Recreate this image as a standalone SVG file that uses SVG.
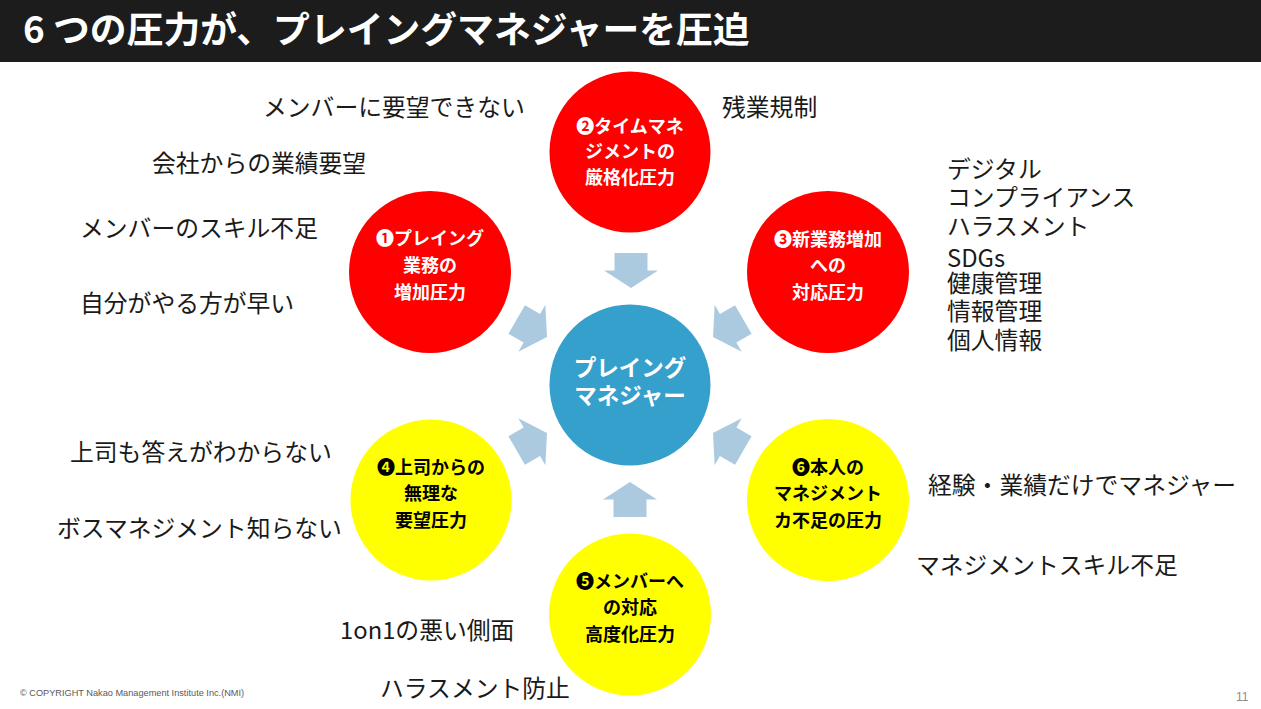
<svg xmlns="http://www.w3.org/2000/svg" xmlns:xlink="http://www.w3.org/1999/xlink" width="1261" height="709" viewBox="0 0 1261 709">
<style>
.jp{font-family:"Noto Sans CJK JP","Noto Sans",sans-serif}
.title{font-size:36.8px;font-weight:bold;fill:#ffffff}
.lbl{font-size:23.8px;fill:#1a1a1a}
.ct{font-size:18px;font-weight:bold;text-anchor:middle}
.w{fill:#ffffff}
.b{fill:#000000}
.red{fill:#ff0000}
.yel{fill:#ffff00}
.arrow{fill:#abcae0}
</style>
<defs>
<path id="arr" d="M-16.5,-35 L16.5,-35 L16.5,-17.5 L27,-17.5 L0,0 L-27,-17.5 L-16.5,-17.5 Z"/>
</defs>
<rect x="0" y="0" width="1261" height="709" fill="#ffffff"/>
<rect x="0" y="0" width="1261" height="62" fill="#1c1c1c"/>
<text class="jp title" x="23" y="43">6 つの圧力が、プレイングマネジャーを圧迫</text>

<g id="connectors" class="arrow">
<use xlink:href="#arr" transform="translate(631,288)"/>
<use xlink:href="#arr" transform="translate(630,482) rotate(180)"/>
<use xlink:href="#arr" transform="translate(547,337) rotate(-60)"/>
<use xlink:href="#arr" transform="translate(713,337) rotate(60)"/>
<use xlink:href="#arr" transform="translate(547,433) rotate(-120)"/>
<use xlink:href="#arr" transform="translate(713,433) rotate(120)"/>
</g>

<g id="center">
<circle cx="630" cy="385" r="80.5" fill="#36a0cc"/>
<text class="jp" x="630" y="376" font-size="22.5" font-weight="bold" fill="#ffffff" text-anchor="middle">プレイング</text>
<text class="jp" x="630" y="404" font-size="22.5" font-weight="bold" fill="#ffffff" text-anchor="middle">マネジャー</text>
</g>

<g id="p1">
<circle class="red" cx="430" cy="272" r="81"/>
<text class="jp ct w" x="430" y="245">❶プレイング</text>
<text class="jp ct w" x="430" y="272">業務の</text>
<text class="jp ct w" x="430" y="299">増加圧力</text>
</g>
<g id="p2">
<circle class="red" cx="630" cy="152" r="80.5"/>
<text class="jp ct w" x="630" y="133">❷タイムマネ</text>
<text class="jp ct w" x="630" y="158">ジメントの</text>
<text class="jp ct w" x="630" y="184">厳格化圧力</text>
</g>
<g id="p3">
<circle class="red" cx="828" cy="272" r="81"/>
<text class="jp ct w" x="828" y="246">❸新業務増加</text>
<text class="jp ct w" x="828" y="272">への</text>
<text class="jp ct w" x="828" y="299">対応圧力</text>
</g>
<g id="p4">
<circle class="yel" cx="431" cy="500" r="80.5"/>
<text class="jp ct b" x="431" y="474">❹上司からの</text>
<text class="jp ct b" x="431" y="500">無理な</text>
<text class="jp ct b" x="431" y="527">要望圧力</text>
</g>
<g id="p5">
<circle class="yel" cx="630" cy="614.5" r="81"/>
<text class="jp ct b" x="630" y="588">❺メンバーへ</text>
<text class="jp ct b" x="630" y="614">の対応</text>
<text class="jp ct b" x="630" y="641">高度化圧力</text>
</g>
<g id="p6">
<circle class="yel" cx="828" cy="500" r="81"/>
<text class="jp ct b" x="828" y="474">❻本人の</text>
<text class="jp ct b" x="828" y="500">マネジメント</text>
<text class="jp ct b" x="828" y="527">カ不足の圧力</text>
</g>

<g id="labels">
<text class="jp lbl" x="263" y="116">メンバーに要望できない</text>
<text class="jp lbl" x="722" y="116">残業規制</text>
<text class="jp lbl" x="152" y="172">会社からの業績要望</text>
<text class="jp lbl"><tspan x="947" y="178">デジタル</tspan><tspan x="947" y="206">コンプライアンス</tspan><tspan x="947" y="235">ハラスメント</tspan><tspan x="947" y="267">SDGs</tspan><tspan x="947" y="292">健康管理</tspan><tspan x="947" y="320">情報管理</tspan><tspan x="947" y="349">個人情報</tspan></text>
<text class="jp lbl" x="80" y="237">メンバーのスキル不足</text>
<text class="jp lbl" x="80" y="312">自分がやる方が早い</text>
<text class="jp lbl" x="70" y="461">上司も答えがわからない</text>
<text class="jp lbl" x="57" y="537">ボスマネジメント知らない</text>
<text class="jp lbl" x="928" y="494">経験・業績だけでマネジャー</text>
<text class="jp lbl" x="916" y="574">マネジメントスキル不足</text>
<text class="jp lbl" x="340" y="639">1on1の悪い側面</text>
<text class="jp lbl" x="380" y="697">ハラスメント防止</text>
</g>

<text x="20" y="696" font-family="Liberation Sans, Arial, sans-serif" font-size="9.2" fill="#595959">© COPYRIGHT Nakao Management Institute Inc.(NMI)</text>
<text x="1236" y="701" font-family="Liberation Sans, Arial, sans-serif" font-size="12" fill="#8c8c8c">11</text>
</svg>
